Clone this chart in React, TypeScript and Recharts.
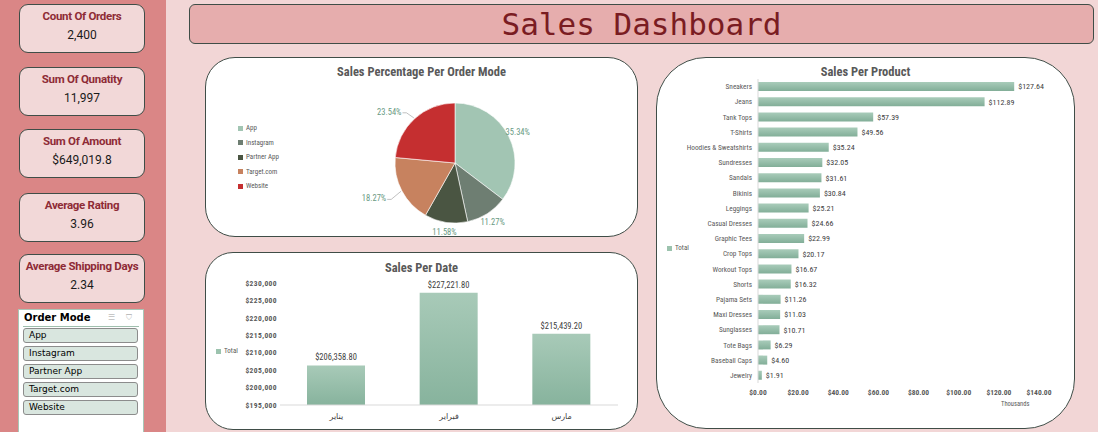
import React from 'react'
import { PieChart, Pie, Cell, BarChart, Bar, XAxis, YAxis, LabelList } from 'recharts'

// KPI tiles
const kpiTitles = ['Count Of Orders', 'Sum Of Qunatity', 'Sum Of Amount', 'Average Rating', 'Average Shipping Days']
const kpiValues = ['2,400', '11,997', '$649,019.8', '3.96', '2.34']
const kpiTops = [4, 67, 129, 193, 254]

// order mode share (%)
const orderModes = ['App', 'Instagram', 'Partner App', 'Target.com', 'Website']
const modeShare = [35.34, 11.27, 11.58, 18.27, 23.54]
const modeColors = ['#a2c5b3', '#6e7e72', '#4a5542', '#c7825f', '#c52f30']

// sales per month
const months = ['يناير', 'فبراير', 'مارس']
const monthSales = [206358.8, 227221.8, 215439.2]
const dateTicks = [195000, 200000, 205000, 210000, 215000, 220000, 225000, 230000]

// sales per product (thousands)
const products = ['Sneakers', 'Jeans', 'Tank Tops', 'T-Shirts', 'Hoodies & Sweatshirts', 'Sundresses', 'Sandals', 'Bikinis', 'Leggings', 'Casual Dresses', 'Graphic Tees', 'Crop Tops', 'Workout Tops', 'Shorts', 'Pajama Sets', 'Maxi Dresses', 'Sunglasses', 'Tote Bags', 'Baseball Caps', 'Jewelry']
const productSales = [127.64, 112.89, 57.39, 49.56, 35.24, 32.05, 31.61, 30.84, 25.21, 24.66, 22.99, 20.17, 16.67, 16.32, 11.26, 11.03, 10.71, 6.29, 4.60, 1.91]
const productTicks = [0, 20, 40, 60, 80, 100, 120, 140]

const modeData = orderModes.map((name, i) => ({ name, value: modeShare[i] }))
const dateData = months.map((name, i) => ({ name, value: monthSales[i] }))
const productData = products.map((name, i) => ({ name, value: productSales[i] }))

const chartFont = '"Liberation Sans Narrow", "Roboto Condensed", Roboto, "DejaVu Sans", sans-serif'
const RAD = Math.PI / 180

const money = (v: number) => '$' + v.toLocaleString('en-US', { minimumFractionDigits: 2, maximumFractionDigits: 2 })

function PieLabel(props: any) {
  const { cx, cy, midAngle, outerRadius, value } = props
  const cos = Math.cos(-midAngle * RAD)
  const sin = Math.sin(-midAngle * RAD)
  const text = value.toFixed(2) + '%'
  if (cos < -0.5) {
    const r = outerRadius + 12
    const x = cx + r * cos
    const y = cy + r * sin
    const ex = cx + (outerRadius + 1) * cos
    const ey = cy + (outerRadius + 1) * sin
    return (
      <g>
        <polyline points={`${ex},${ey} ${x},${y + 3} ${x - 4},${y + 3}`} fill="none" stroke="#a6a6a6" strokeWidth={0.7} />
        <text x={x - 5} y={y + 2} textAnchor="end" dominantBaseline="central" fontSize={8.5} fill="#6a9a83" fontFamily={chartFont}>{text}</text>
      </g>
    )
  }
  const r = outerRadius + 10
  return (
    <text x={cx + r * cos} y={cy + r * sin} textAnchor="middle" dominantBaseline="central" fontSize={8.5} fill="#6a9a83" fontFamily={chartFont}>{text}</text>
  )
}

// plain single-line category label (no wrapping)
function ProductTick(props: any) {
  const { x, y, payload } = props
  return (
    <text x={x} y={y} textAnchor="end" dominantBaseline="central" fontSize={7.3} fill="#595959" fontFamily={chartFont}>{payload.value}</text>
  )
}

function Card({ left, top, width, height, radius, children }: any) {
  return (
    <div style={{ position: 'absolute', left, top, width, height, background: '#fff', border: '1px solid #3f4d47', borderRadius: radius, boxSizing: 'border-box', overflow: 'hidden' }}>
      {children}
    </div>
  )
}

function ChartTitle({ text, top }: any) {
  return (
    <div style={{ position: 'absolute', left: 0, right: 0, top, textAlign: 'center', fontFamily: chartFont, fontWeight: 700, fontSize: 12.5, color: '#595959' }}>{text}</div>
  )
}

function LegendItem({ color, label, left, top }: any) {
  return (
    <div style={{ position: 'absolute', left, top, display: 'flex', alignItems: 'center', fontFamily: chartFont, fontSize: 7, color: '#595959', whiteSpace: 'nowrap' }}>
      <span style={{ display: 'inline-block', width: 5, height: 5, background: color, marginRight: 3 }} />
      {label}
    </div>
  )
}

export default function App() {
  return (
    <div style={{ position: 'relative', width: 1098, height: 432, background: '#f2d6d6', overflow: 'hidden', fontFamily: 'Roboto, sans-serif' }}>
      <style>{'body{margin:0}'}</style>

      {/* sidebar */}
      <div style={{ position: 'absolute', left: 0, top: 0, width: 166, height: 432, background: '#da8686' }} />
      {kpiTitles.map((t, i) => (
        <div key={t} style={{ position: 'absolute', left: 19, top: kpiTops[i], width: 126, height: 49, background: '#f2d8d8', border: '1px solid #3f4d47', borderRadius: 9, boxSizing: 'border-box', textAlign: 'center' }}>
          <div style={{ marginTop: 4, fontSize: 11.5, fontWeight: 700, color: '#8e2b36', letterSpacing: -0.3, whiteSpace: 'nowrap' }}>{t}</div>
          <div style={{ marginTop: 5, fontSize: 12, color: '#1a1a1a' }}>{kpiValues[i]}</div>
        </div>
      ))}

      {/* order mode slicer */}
      <div style={{ position: 'absolute', left: 18, top: 309, width: 126, height: 124, background: '#fff', border: '1px solid #a9c6b6', boxSizing: 'border-box' }}>
        <div style={{ position: 'absolute', left: 5, top: 2, fontSize: 10, fontWeight: 700, color: '#000', fontFamily: '"DejaVu Sans", sans-serif' }}>Order Mode</div>
        <div style={{ position: 'absolute', left: 89, top: 3, fontSize: 8, color: '#bdbdbd' }}>☰</div>
        <div style={{ position: 'absolute', left: 107, top: 3, fontSize: 8, color: '#bdbdbd' }}>⛉</div>
        <div style={{ position: 'absolute', left: 4, right: 4, top: 16, height: 1, background: '#9fbfae' }} />
        {orderModes.map((m, i) => (
          <div key={m} style={{ position: 'absolute', left: 4, top: 18 + i * 18, width: 115, height: 15, background: '#d9e6df', border: '1px solid #8c8c8c', borderRadius: 3, boxSizing: 'border-box', fontSize: 9, lineHeight: '13px', paddingLeft: 5, color: '#000', fontFamily: '"DejaVu Sans", sans-serif' }}>{m}</div>
        ))}
      </div>

      {/* header */}
      <div style={{ position: 'absolute', left: 189, top: 4, width: 905, height: 40, background: '#e6adad', border: '1px solid #3f4d47', borderRadius: 6, boxSizing: 'border-box', textAlign: 'center', fontFamily: '"DejaVu Sans Mono", monospace', fontSize: 31, lineHeight: '38px', color: '#7a1c22' }}>Sales Dashboard</div>

      {/* pie: sales share by order mode */}
      <Card left={205} top={57} width={433} height={180} radius={30}>
        <ChartTitle text="Sales Percentage Per Order Mode" top={6} />
        {orderModes.map((m, i) => (
          <LegendItem key={m} color={modeColors[i]} label={m} left={32} top={66 + i * 14.5} />
        ))}
        <div style={{ position: 'absolute', left: 0, top: 0 }}>
          <PieChart width={433} height={180}>
            <Pie data={modeData} dataKey="value" cx={244} cy={100} outerRadius={60} startAngle={90} endAngle={-270} stroke="#ffffff" strokeWidth={0.6} label={PieLabel} labelLine={false} isAnimationActive={false}>
              {modeData.map((d, i) => <Cell key={d.name} fill={modeColors[i]} />)}
            </Pie>
          </PieChart>
        </div>
      </Card>

      {/* bars: sales per month */}
      <Card left={205} top={252} width={433} height={178} radius={28}>
        <ChartTitle text="Sales Per Date" top={7} />
        <LegendItem color="#9cc3ae" label="Total" left={10} top={94} />
        <div style={{ position: 'absolute', left: -1, top: -1 }}>
          <BarChart width={433} height={178} data={dateData} margin={{ top: 31, right: 20, bottom: 0, left: 10 }}>
            <defs>
              <linearGradient id="dateFill" x1="0" y1="0" x2="0" y2="1">
                <stop offset="0" stopColor="#a8cab8" />
                <stop offset="1" stopColor="#87b39d" />
              </linearGradient>
            </defs>
            <XAxis dataKey="name" axisLine={{ stroke: '#d9d9d9' }} tickLine={false} tickSize={0} tickMargin={8} height={25} tick={{ fontSize: 8, fill: '#404040', fontFamily: '"DejaVu Sans", sans-serif' }} />
            <YAxis domain={[195000, 230000]} ticks={dateTicks} axisLine={false} tickLine={false} tickSize={0} tickMargin={3} width={65} tickFormatter={(v: number) => '$' + v.toLocaleString('en-US')} tick={{ fontSize: 7.5, fontWeight: 700, fill: '#595959', fontFamily: chartFont, letterSpacing: 0.4 }} />
            <Bar dataKey="value" fill="url(#dateFill)" barSize={58} isAnimationActive={false}>
              <LabelList dataKey="value" position="top" offset={5} formatter={(v: any) => money(Number(v))} style={{ fontSize: 8.5, fill: '#404040', fontFamily: chartFont }} />
            </Bar>
          </BarChart>
        </div>
      </Card>

      {/* horizontal bars: sales per product */}
      <Card left={656} top={57} width={419} height={372} radius={50}>
        <ChartTitle text="Sales Per Product" top={6} />
        <LegendItem color="#9cc3ae" label="Total" left={10} top={186} />
        <div style={{ position: 'absolute', left: -1, top: -1 }}>
          <BarChart width={419} height={372} data={productData} layout="vertical" margin={{ top: 22, right: 36, bottom: 0, left: 2 }}>
            <defs>
              <linearGradient id="prodFill" x1="0" y1="0" x2="0" y2="1">
                <stop offset="0" stopColor="#a9ccba" />
                <stop offset="1" stopColor="#82ae98" />
              </linearGradient>
            </defs>
            <XAxis type="number" domain={[0, 140]} ticks={productTicks} axisLine={false} tickLine={false} tickSize={0} tickMargin={7} height={46} tickFormatter={(v: number) => '$' + v.toFixed(2)} tick={{ fontSize: 7.5, fontWeight: 700, fill: '#595959', fontFamily: chartFont }} />
            <YAxis type="category" dataKey="name" width={100} axisLine={{ stroke: '#d9d9d9' }} tickLine={false} tickSize={0} tickMargin={6} interval={0} tick={ProductTick} />
            <Bar dataKey="value" fill="url(#prodFill)" barSize={9} isAnimationActive={false}>
              <LabelList dataKey="value" position="right" offset={4} formatter={(v: any) => money(Number(v))} style={{ fontSize: 8, fill: '#404040', fontFamily: chartFont }} />
            </Bar>
          </BarChart>
        </div>
        <div style={{ position: 'absolute', left: 344, top: 342, fontFamily: chartFont, fontSize: 6.5, color: '#595959' }}>Thousands</div>
      </Card>
    </div>
  )
}
